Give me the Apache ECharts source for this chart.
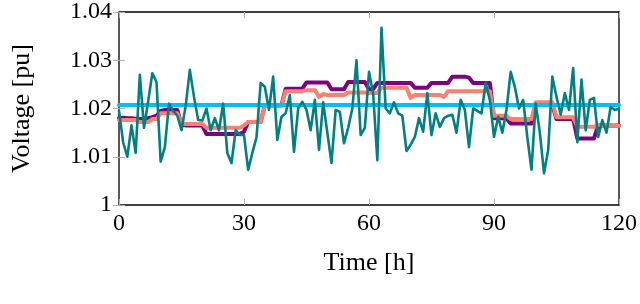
<!DOCTYPE html>
<html><head><meta charset="utf-8">
<script src="https://cdn.jsdelivr.net/npm/echarts@6/dist/echarts.min.js"></script>
<style>html,body{margin:0;padding:0;background:#fff}#c{width:640px;height:304px}</style>
</head><body><div id="c"></div>
<script>
const hours = Array.from({length:121},(_,i)=>i);
const xTicks = [0,30,60,90,120];
const yTicks = [1,1.01,1.02,1.03,1.04];
const reference = 1.0207;
const purple = [
1.0180,1.0181,1.0180,1.0180,1.0179,1.0178,1.0178,1.0180,1.0182,1.0185,
1.0195,1.0197,1.0198,1.0197,1.0197,1.0166,1.0165,1.0165,1.0165,1.0165,
1.0165,1.0147,1.0147,1.0147,1.0147,1.0147,1.0147,1.0147,1.0147,1.0147,
1.0152,1.0172,1.0172,1.0172,1.0172,1.0207,1.0207,1.0207,1.0207,1.0207,
1.0241,1.0241,1.0241,1.0241,1.0241,1.0254,1.0254,1.0254,1.0254,1.0254,
1.0254,1.0240,1.0240,1.0240,1.0240,1.0255,1.0255,1.0255,1.0255,1.0255,
1.0240,1.0240,1.0253,1.0253,1.0253,1.0253,1.0253,1.0253,1.0253,1.0253,
1.0253,1.0243,1.0243,1.0243,1.0243,1.0253,1.0253,1.0253,1.0253,1.0253,
1.0266,1.0266,1.0266,1.0266,1.0264,1.0253,1.0253,1.0253,1.0253,1.0253,
1.0180,1.0180,1.0180,1.0180,1.0169,1.0169,1.0169,1.0169,1.0169,1.0169,
1.0208,1.0208,1.0208,1.0208,1.0208,1.0178,1.0178,1.0178,1.0178,1.0178,
1.0138,1.0138,1.0138,1.0138,1.0138,1.0165,1.0165,1.0165,1.0165,1.0165,1.0165];
const salmon = [
1.0176,1.0176,1.0176,1.0176,1.0176,1.0172,1.0172,1.0172,1.0178,1.0178,
1.0190,1.0190,1.0190,1.0190,1.0190,1.0168,1.0168,1.0168,1.0168,1.0168,
1.0168,1.0160,1.0160,1.0160,1.0160,1.0160,1.0160,1.0160,1.0160,1.0160,
1.0165,1.0172,1.0172,1.0172,1.0172,1.0205,1.0205,1.0205,1.0205,1.0205,
1.0236,1.0236,1.0236,1.0236,1.0236,1.0238,1.0238,1.0238,1.0224,1.0230,
1.0228,1.0228,1.0228,1.0228,1.0228,1.0233,1.0233,1.0233,1.0233,1.0233,
1.0232,1.0232,1.0232,1.0243,1.0243,1.0243,1.0243,1.0243,1.0243,1.0243,
1.0222,1.0228,1.0228,1.0228,1.0228,1.0228,1.0228,1.0228,1.0224,1.0236,
1.0236,1.0236,1.0236,1.0236,1.0236,1.0236,1.0236,1.0236,1.0236,1.0236,
1.0185,1.0185,1.0185,1.0185,1.0178,1.0178,1.0178,1.0178,1.0178,1.0178,
1.0213,1.0213,1.0213,1.0213,1.0213,1.0182,1.0182,1.0182,1.0182,1.0182,
1.0162,1.0162,1.0162,1.0162,1.0162,1.0166,1.0166,1.0166,1.0166,1.0166,1.0164];
const teal = [
1.0195,1.0130,1.0100,1.0165,1.0108,1.0270,1.0160,1.0215,1.0273,1.0255,
1.0090,1.0120,1.0210,1.0195,1.0185,1.0155,1.0205,1.0280,1.0224,1.0176,
1.0175,1.0200,1.0155,1.0180,1.0155,1.0210,1.0108,1.0087,1.0155,1.0145,
1.0145,1.0073,1.0108,1.0140,1.0253,1.0245,1.0197,1.0266,1.0135,1.0183,
1.0190,1.0228,1.0110,1.0200,1.0214,1.0197,1.0155,1.0218,1.0114,1.0213,
1.0150,1.0087,1.0197,1.0193,1.0128,1.0160,1.0200,1.0300,1.0145,1.0160,
1.0276,1.0230,1.0093,1.0367,1.0200,1.0190,1.0213,1.0190,1.0185,1.0112,
1.0125,1.0141,1.0180,1.0152,1.0232,1.0145,1.0190,1.0162,1.0180,1.0185,
1.0187,1.0150,1.0218,1.0197,1.0120,1.0200,1.0195,1.0190,1.0253,1.0218,
1.0141,1.0183,1.0150,1.0197,1.0276,1.0245,1.0200,1.0218,1.0140,1.0073,
1.0210,1.0150,1.0066,1.0114,1.0266,1.0224,1.0187,1.0232,1.0197,1.0284,
1.0130,1.0260,1.0155,1.0218,1.0222,1.0141,1.0176,1.0150,1.0203,1.0197,1.0200];

const pairs = arr => hours.map((h,i)=>[h,arr[i]]);
const font = '"Liberation Serif", "DejaVu Serif", serif';
const tickStyle = {show:true, inside:true, length:6, lineStyle:{color:'#b0b0b0', width:1}};
const chart = echarts.init(document.getElementById('c'), null, {renderer:'canvas'});
const lineS = (name, data, color, w, z) => ({
  name, type:'line', data, symbol:'none', z, animation:false,
  lineStyle:{color, width:w, join:'round', cap:'round'}, itemStyle:{color}
});
chart.setOption({
  animation:false,
  grid:{left:119, right:21, top:12, bottom:99, show:true, borderColor:'#000', borderWidth:1.3, backgroundColor:'transparent'},
  xAxis:[
    {type:'value', min:xTicks[0], max:xTicks[xTicks.length-1], interval:30,
     name:'Time [h]', nameLocation:'middle', nameGap:45,
     nameTextStyle:{fontFamily:font, fontSize:26, color:'#000'},
     axisLine:{show:false}, axisTick:tickStyle, splitLine:{show:false},
     axisLabel:{fontFamily:font, fontSize:24, color:'#000', margin:7}},
    {type:'value', position:'top', min:0, max:120, interval:30,
     axisLine:{show:false}, axisTick:tickStyle, splitLine:{show:false}, axisLabel:{show:false}}
  ],
  yAxis:[
    {type:'value', min:yTicks[0], max:yTicks[yTicks.length-1], interval:0.01,
     name:'Voltage [pu]', nameLocation:'middle', nameGap:84, nameRotate:90,
     nameTextStyle:{fontFamily:font, fontSize:26, color:'#000'},
     axisLine:{show:false}, axisTick:tickStyle, splitLine:{show:false},
     axisLabel:{fontFamily:font, fontSize:24, color:'#000', margin:7,
       formatter:v=>(+v.toFixed(2)).toString()}},
    {type:'value', position:'right', min:1, max:1.04, interval:0.01,
     axisLine:{show:false}, axisTick:tickStyle, splitLine:{show:false}, axisLabel:{show:false}}
  ],
  series:[
    lineS('purple', pairs(purple), '#800080', 4, 2),
    lineS('salmon', pairs(salmon), '#FA8072', 4, 3),
    lineS('reference', pairs(hours.map(()=>reference)), '#00BFFF', 4, 4),
    lineS('teal', pairs(teal), '#008080', 2.6, 5)
  ]
});
</script></body></html>
